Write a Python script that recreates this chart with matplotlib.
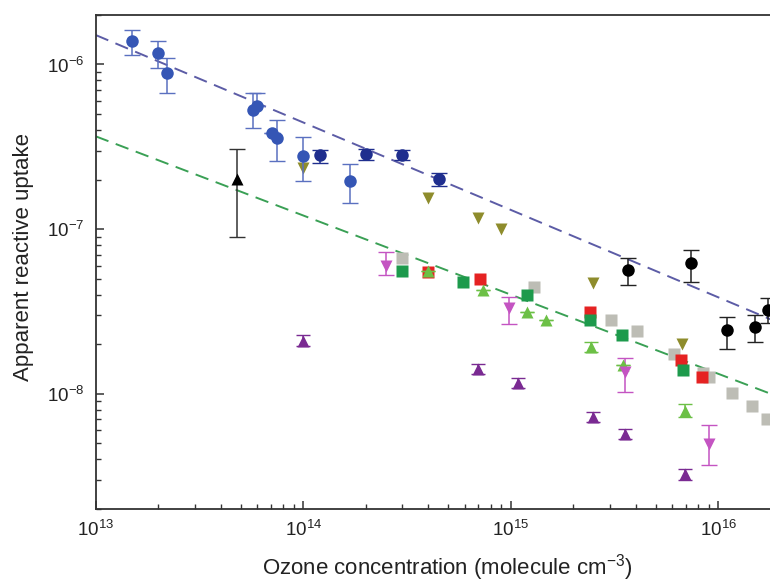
import numpy as np
import matplotlib
matplotlib.use("Agg")
import matplotlib.pyplot as plt

plt.rcParams['font.family'] = ['Liberation Sans', 'DejaVu Sans']
plt.rcParams['mathtext.default'] = 'regular'

# ---- data ----
# blue circles (lighter)
blue1_x = [1.5e13, 2.0e13, 2.2e13, 5.7e13, 6.0e13, 7.1e13, 7.5e13, 1.0e14, 1.68e14]
blue1_y = [1.39e-6, 1.18e-6, 8.9e-7, 5.3e-7, 5.6e-7, 3.84e-7, 3.6e-7, 2.79e-7, 1.97e-7]
blue1_lo = [1.15e-6, 9.55e-7, 6.73e-7, 4.1e-7, 5.6e-7, 3.84e-7, 2.58e-7, 1.97e-7, 1.45e-7]
blue1_hi = [1.63e-6, 1.39e-6, 1.1e-6, 6.73e-7, 6.73e-7, 3.84e-7, 4.58e-7, 3.63e-7, 2.49e-7]
# blue circles (darker)
blue2_x = [1.2e14, 2.0e14, 3.0e14, 4.5e14]
blue2_y = [2.8e-7, 2.87e-7, 2.8e-7, 2.01e-7]
blue2_lo = [2.52e-7, 2.64e-7, 2.61e-7, 1.83e-7]
blue2_hi = [3.03e-7, 3.06e-7, 3.03e-7, 2.19e-7]
# black circles
black_x = [3.7e15, 7.4e15, 1.1e16, 1.51e16, 1.75e16]
black_y = [5.65e-8, 6.18e-8, 2.43e-8, 2.55e-8, 3.22e-8]
black_lo = [4.57e-8, 4.8e-8, 1.88e-8, 2.06e-8, 2.7e-8]
black_hi = [6.65e-8, 7.46e-8, 2.93e-8, 3.0e-8, 3.8e-8]
# black triangle
tri_x = [4.8e13]
tri_y = [2.02e-7]
tri_lo = [9.0e-8]
tri_hi = [3.07e-7]
# olive down triangles
olive_x = [1.0e14, 4.0e14, 7.0e14, 9.0e14, 2.5e15, 6.7e15]
olive_y = [2.35e-7, 1.54e-7, 1.16e-7, 1.0e-7, 4.69e-8, 2.0e-8]
# magenta down triangles
mag_x = [2.5e14, 9.8e14, 3.54e15, 9.0e15]
mag_y = [5.97e-8, 3.3e-8, 1.36e-8, 4.97e-9]
mag_lo = [5.26e-8, 2.65e-8, 1.02e-8, 3.66e-9]
mag_hi = [7.26e-8, 3.88e-8, 1.64e-8, 6.41e-9]
# purple up triangles
purp_x = [1.0e14, 7.0e14, 1.08e15, 2.5e15, 3.54e15, 6.9e15]
purp_y = [2.1e-8, 1.41e-8, 1.16e-8, 7.2e-9, 5.66e-9, 3.23e-9]
# gray squares
gray_x = [3.0e14, 1.3e15, 3.04e15, 4.05e15, 6.1e15, 8.45e15, 9.0e15, 1.17e16, 1.46e16, 1.72e16]
gray_y = [6.65e-8, 4.47e-8, 2.8e-8, 2.4e-8, 1.74e-8, 1.33e-8, 1.26e-8, 1.01e-8, 8.37e-9, 7.05e-9]
# red squares
red_x = [4.0e14, 7.08e14, 2.42e15, 6.62e15, 8.4e15]
red_y = [5.5e-8, 4.95e-8, 3.15e-8, 1.6e-8, 1.26e-8]
# dark green squares
dgreen_x = [3.0e14, 5.9e14, 1.2e15, 2.42e15, 3.46e15, 6.8e15]
dgreen_y = [5.58e-8, 4.79e-8, 3.97e-8, 2.8e-8, 2.27e-8, 1.4e-8]
# light green up triangles
lgreen_x = [4.0e14, 7.4e14, 1.2e15, 1.48e15, 2.44e15, 3.5e15, 6.9e15]
lgreen_y = [5.58e-8, 4.27e-8, 3.15e-8, 2.8e-8, 1.92e-8, 1.49e-8, 7.85e-9]
lgreen_lo = [5.58e-8, 4.27e-8, 3.15e-8, 2.8e-8, 1.78e-8, 1.49e-8, 7.2e-9]
lgreen_hi = [5.58e-8, 4.27e-8, 3.15e-8, 2.8e-8, 2.05e-8, 1.49e-8, 8.6e-9]

# fitted lines (end points)
fit_x = [1.0e13, 3.0e16]
blue_fit_y = [1.51e-6, 2.15e-8]
green_fit_y = [3.66e-7, 7.79e-9]

fig = plt.figure(figsize=(7.7, 5.84), dpi=100)
ax = fig.add_axes([0.1243, 0.129, 0.9368, 0.8454])

def yerr(y, lo, hi):
    return [np.array(y) - np.array(lo), np.array(hi) - np.array(y)]

# fit lines
ax.plot(fit_x, blue_fit_y, color='#5c5ca6', lw=1.4, dashes=[7, 4], zorder=1)
ax.plot(fit_x, green_fit_y, color='#3aa055', lw=1.4, dashes=[7, 4], zorder=1)

ax.plot(gray_x, gray_y, 's', color='#bdbdb5', ms=8, mec='none', zorder=2)
ax.plot(red_x, red_y, 's', color='#e52222', ms=8, mec='none', zorder=3)
ax.plot(dgreen_x, dgreen_y, 's', color='#1d9a4c', ms=8, mec='none', zorder=4)
ax.errorbar(lgreen_x, lgreen_y, yerr=yerr(lgreen_y, lgreen_lo, lgreen_hi), fmt='^',
            color='#6cc046', ms=9, mec='none', capsize=5, elinewidth=1.1, zorder=5)
ax.plot(olive_x, olive_y, 'v', color='#8e8c2c', ms=9, mec='none', zorder=5)
ax.errorbar(mag_x, mag_y, yerr=yerr(mag_y, mag_lo, mag_hi), fmt='v',
            color='#c454c2', ms=9, mec='none', capsize=6, elinewidth=1.1, zorder=5)
ax.errorbar(purp_x, purp_y, yerr=[[0.07 * v for v in purp_y], [0.08 * v for v in purp_y]], fmt='^',
            color='#7a2a92', ms=9, mec='none', capsize=5, elinewidth=1.1, zorder=5)
ax.errorbar(blue1_x, blue1_y, yerr=yerr(blue1_y, blue1_lo, blue1_hi), fmt='o',
            color='#3556b5', ecolor='#5a70c0', ms=9, mec='none', capsize=6, elinewidth=1.1, zorder=6)
ax.errorbar(blue2_x, blue2_y, yerr=yerr(blue2_y, blue2_lo, blue2_hi), fmt='o',
            color='#1f2e8e', ms=9, mec='none', capsize=6, elinewidth=1.1, zorder=6)
ax.errorbar(black_x, black_y, yerr=yerr(black_y, black_lo, black_hi), fmt='o',
            color='black', ecolor='#222222', ms=9, mec='none', capsize=6, elinewidth=1.1, zorder=6)
ax.errorbar(tri_x, tri_y, yerr=yerr(tri_y, tri_lo, tri_hi), fmt='^',
            color='black', ecolor='#333333', ms=9, mec='none', capsize=6, elinewidth=1.1, zorder=6)

ax.set_xscale('log')
ax.set_yscale('log')
ax.set_xlim(1e13, 3e16)
ax.set_ylim(2e-9, 2e-6)

for s in ax.spines.values():
    s.set_color('#333333')
    s.set_linewidth(1.3)

ax.tick_params(which='both', direction='in', colors='#333333', labelcolor='#222222')
ax.tick_params(which='major', length=6, width=1.1, labelsize=13.5, pad=8)
ax.tick_params(which='minor', length=3.5, width=1.0)
ax.tick_params(axis='y', which='major', pad=8)

ax.set_ylabel('Apparent reactive uptake', fontsize=16, color='#222222')
ax.yaxis.set_label_coords(-(96 - 24) / (817 - 95.7), (509 - 257) / (509 - 15))
ax.set_xlabel('Ozone concentration (molecule cm$^{-3}$)', fontsize=16, color='#222222')
ax.xaxis.set_label_coords((447 - 95.7) / (817 - 95.7), -(568 - 509) / (509 - 15))
ax.xaxis.label.set_va('center')
ax.yaxis.label.set_va('center')

fig.savefig('out.png', dpi=100)
